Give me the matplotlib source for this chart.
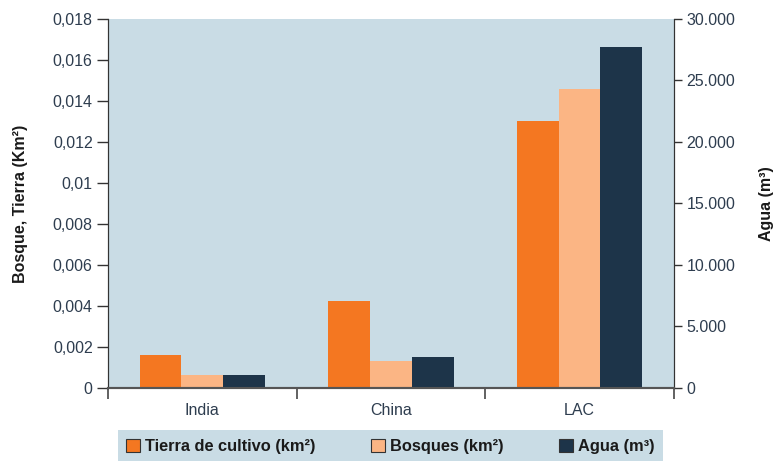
import numpy as np
import matplotlib.pyplot as plt
from matplotlib.patches import Patch
from matplotlib.ticker import FuncFormatter, FixedLocator

plt.rcParams['font.family'] = ['Liberation Sans', 'DejaVu Sans']

regiones = ['India', 'China', 'LAC']
tierra = [0.00161, 0.00424, 0.01302]   # km2
bosques = [0.00064, 0.00132, 0.01459]  # km2
agua = [1060, 2520, 27720]             # m3

naranja = '#F47721'
salmon = '#FBB584'
marino = '#1D3449'
fondo = '#C9DCE5'
texto = '#2E3D4F'


def fmt_izq(v, pos):
    if v == 0:
        return '0'
    return ('%.3f' % v).rstrip('0').replace('.', ',')


def fmt_der(v, pos):
    return '{:,.0f}'.format(v).replace(',', '.')


fig = plt.figure(figsize=(7.77, 4.61), dpi=100)
ax = fig.add_axes([0.139, 0.1584, 0.7284, 0.8004])
ax2 = ax.twinx()

x = np.arange(len(regiones))
w = 0.221
ax.bar(x - w, tierra, w, color=naranja, zorder=2)
ax.bar(x, bosques, w, color=salmon, zorder=2)
ax2.bar(x + w, agua, w, color=marino, zorder=2)

ax.set_facecolor(fondo)
ax.set_xlim(-0.5, 2.5)
ax.set_ylim(0, 0.018)
ax2.set_ylim(0, 30000)
ax.set_yticks(np.arange(0, 0.0181, 0.002))
ax2.set_yticks(np.arange(0, 30001, 5000))
ax.yaxis.set_major_formatter(FuncFormatter(fmt_izq))
ax2.yaxis.set_major_formatter(FuncFormatter(fmt_der))

# category names centred, tick marks on the boundaries
ax.xaxis.set_major_locator(FixedLocator([-0.5, 0.5, 1.5, 2.5]))
ax.xaxis.set_major_formatter(FuncFormatter(lambda v, p: ''))
ax.xaxis.set_minor_locator(FixedLocator(x))
ax.set_xticklabels(regiones, minor=True)
ax.tick_params(axis='x', which='minor', length=0, pad=11, labelsize=11.5, labelcolor=texto)
ax.tick_params(axis='x', which='major', length=8, width=1.3, color='#555555', direction='out')
ax.tick_params(axis='y', length=8, width=1, color='#333333', labelsize=11.5, labelcolor=texto, pad=3)
ax2.tick_params(axis='y', length=6, width=1, color='#333333', labelsize=11.5, labelcolor=texto, pad=3)

for a in (ax, ax2):
    a.spines['top'].set_visible(False)
    a.spines['left'].set_color('#333333')
    a.spines['right'].set_color('#333333')
    a.spines['bottom'].set_color('#555555')
    a.spines['bottom'].set_linewidth(1.5)

ax.set_ylabel('Bosque, Tierra (Km²)', fontsize=11.5, fontweight='bold', color='#1a1a1a', labelpad=18)
ax2.set_ylabel('Agua (m³)', fontsize=11.5, fontweight='bold', color='#1a1a1a', labelpad=17)

handles = [Patch(facecolor=naranja, edgecolor='#333333', linewidth=0.8, label='Tierra de cultivo (km²)'),
           Patch(facecolor=salmon, edgecolor='#333333', linewidth=0.8, label='Bosques (km²)'),
           Patch(facecolor=marino, edgecolor='#333333', linewidth=0.8, label='Agua (m³)')]
leg = fig.legend(handles=handles, loc='center', bbox_to_anchor=(0.5026, 0.032), ncol=3,
                 frameon=True, fancybox=False, facecolor=fondo, edgecolor='none', framealpha=1,
                 prop={'weight': 'bold', 'size': 11.8}, handlelength=0.85, handleheight=0.85,
                 handletextpad=0.3, columnspacing=3.4, borderpad=0.5, borderaxespad=0)
for t in leg.get_texts():
    t.set_color('#1a1a1a')

fig.savefig('out.png', dpi=100)
